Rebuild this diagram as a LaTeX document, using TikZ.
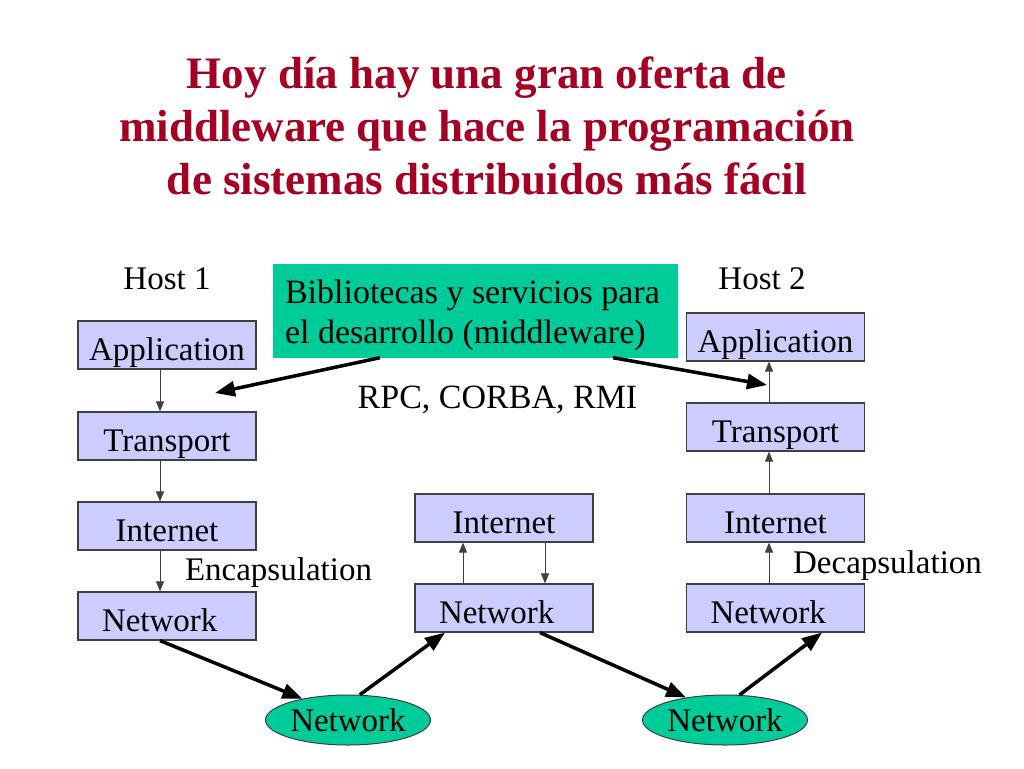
\documentclass[tikz,border=0pt]{standalone}
\usepackage{fontspec}
\setmainfont{Liberation Serif}
\usetikzlibrary{arrows.meta, shapes.geometric}
\definecolor{titlered}{RGB}{165,0,35}
\definecolor{layerblue}{RGB}{204,204,255}
\definecolor{mwgreen}{RGB}{0,204,153}
\definecolor{edgegray}{RGB}{64,64,64}

\begin{document}
\begin{tikzpicture}[x=1pt, y=-1pt]
\tikzstyle{layer}=[rectangle, draw=edgegray, line width=1.2pt, fill=layerblue, minimum width=178pt, minimum height=48pt, inner sep=0pt, text height=30pt, text depth=0pt, font=\fontsize{33}{36}\selectfont]
\tikzstyle{netlayer}=[layer, text width=130pt, align=flush left]
\tikzstyle{wire}=[ellipse, draw=edgegray, line width=1pt, fill=mwgreen, minimum width=165pt, minimum height=50pt, inner sep=0pt, font=\fontsize{33}{36}\selectfont]
\tikzstyle{caption}=[inner sep=0pt, font=\fontsize{33}{36}\selectfont]
\tikzstyle{thin}=[draw=edgegray, line width=1pt, -{Triangle[length=10pt, width=8pt]}]
\tikzstyle{thick}=[line width=3.5pt, -{Triangle[length=20pt, width=15pt]}]
\useasboundingbox (0,0) rectangle (1024,768);
\fill[white] (0,0) rectangle (1024,768);
% title
\node[titlered, font=\fontsize{45}{53}\selectfont\bfseries, align=center] (title) at (487,126) {Hoy día hay una gran oferta de\\middleware que hace la programación\\de sistemas distribuidos más fácil};
% host 1
\node[caption] (host1) at (167,279) {Host 1};
\node[layer] (app1) at (167,345) {Application};
\node[layer] (tra1) at (167,436) {Transport};
\node[layer] (int1) at (167,526) {Internet};
\node[netlayer] (net1) at (167,616) {Network};
% router
\node[layer] (int0) at (504,518) {Internet};
\node[netlayer] (net0) at (504,608) {Network};
% host 2
\node[caption] (host2) at (762,279) {Host 2};
\node[layer] (app2) at (775.5,337) {Application};
\node[layer] (tra2) at (775.5,427) {Transport};
\node[layer] (int2) at (775.5,518) {Internet};
\node[netlayer] (net2) at (775.5,608) {Network};
% links
\node[wire] (link1) at (348,720) {Network};
\node[wire] (link2) at (725,720) {Network};
% middleware
\node[rectangle, fill=mwgreen, minimum width=405pt, minimum height=94pt, text width=381pt, align=flush left, inner sep=0pt, font=\fontsize{34}{40}\selectfont] (mw) at (475.5,310.5) {\rule{0pt}{33pt}Bibliotecas y servicios para\\el desarrollo (middleware)};
\node[caption, font=\fontsize{34}{40}\selectfont] (rpc) at (497.5,400) {RPC, CORBA, RMI};
\node[caption] (enc) at (278.5,573) {Encapsulation};
\node[caption] (dec) at (887.5,566) {Decapsulation};
\coordinate (api1) at (215,393);
\coordinate (api2) at (767,385);
% arrows
\draw[thin] ([xshift=-7pt]app1.south) -- ([xshift=-7pt]tra1.north);
\draw[thin] ([xshift=-7pt]tra1.south) -- ([xshift=-7pt]int1.north);
\draw[thin] ([xshift=-7pt]int1.south) -- ([xshift=-7pt]net1.north);
\draw[thin] ([xshift=-41pt]net0.north) -- ([xshift=-41pt]int0.south);
\draw[thin] ([xshift=41pt]int0.south) -- ([xshift=41pt]net0.north);
\draw[thin] ([xshift=-6.5pt]net2.north) -- ([xshift=-6.5pt]int2.south);
\draw[thin] ([xshift=-6.5pt]int2.north) -- ([xshift=-6.5pt]tra2.south);
\draw[thin] ([xshift=-6.5pt]tra2.north) -- ([xshift=-6.5pt]app2.south);
\draw[thick] ([xshift=-95.5pt]mw.south) -- (api1);
\draw[thick] ([xshift=137.5pt]mw.south) -- (api2);
\draw[thick] ([xshift=-7pt]net1.south) -- (link1.155);
\draw[thick] (link1.65) -- ([xshift=-59pt]net0.south);
\draw[thick] ([xshift=36pt]net0.south) -- (link2.150);
\draw[thick] (link2.60) -- ([xshift=46.5pt]net2.south);
\end{tikzpicture}
\end{document}
